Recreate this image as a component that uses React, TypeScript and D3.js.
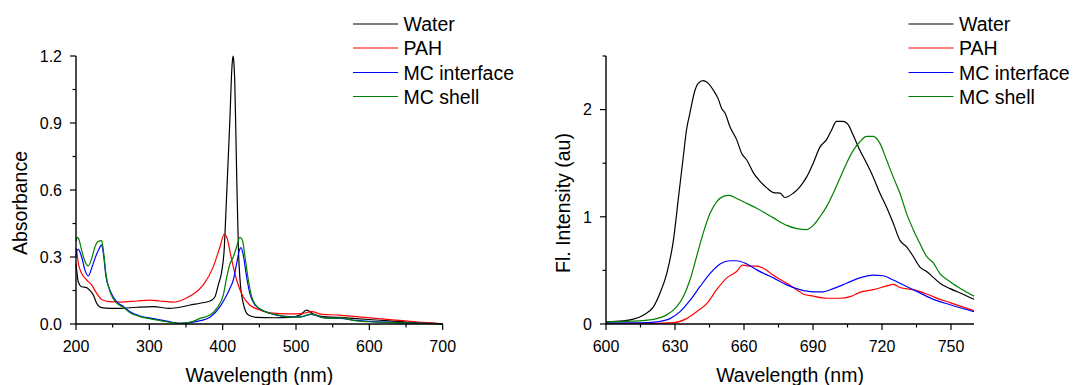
import React from 'react';
import * as d3 from 'd3';

const FONT = '"Liberation Sans", Arial, Helvetica, sans-serif';

// ---------- Absorbance panel data (wavelength nm, absorbance) ----------
const absWater: [number, number][] = [
  [200, 0.27], [201, 0.24], [203, 0.19], [207.7, 0.167], [214.5, 0.163], [219, 0.15], [223.6, 0.13],
  [228.2, 0.093], [235, 0.073], [246.4, 0.07], [260, 0.07], [282.7, 0.075], [305.5, 0.078],
  [328, 0.07], [341.8, 0.075], [355.5, 0.085], [369, 0.093], [382.7, 0.103], [389.5, 0.122],
  [394, 0.175], [398.6, 0.234], [402.3, 0.346], [404, 0.47], [407, 0.7], [410, 0.93], [412, 1.11],
  [413.3, 1.18], [414.3, 1.2], [415.3, 1.17], [416.5, 1.08], [418, 0.85], [419.5, 0.6], [421.5, 0.33],
  [423.6, 0.2], [428, 0.093], [435, 0.04], [446, 0.03], [470, 0.028], [491.8, 0.03], [505.5, 0.04],
  [514.5, 0.062], [523.6, 0.045], [536, 0.033], [559, 0.03], [582, 0.024], [609, 0.018],
  [650, 0.009], [673, 0.006], [700, 0.001],
];
const absPAH: [number, number][] = [
  [200, 0.34], [201, 0.325], [203.2, 0.27], [207.7, 0.227], [214.5, 0.197], [221.4, 0.175],
  [228.2, 0.137], [235, 0.11], [246.4, 0.1], [260, 0.098], [282.7, 0.103], [301, 0.107],
  [314.5, 0.103], [332.7, 0.098], [346.4, 0.11], [360, 0.134], [373.6, 0.175], [387.3, 0.257],
  [396.4, 0.346], [402.3, 0.403], [405.5, 0.39], [412.3, 0.287], [419, 0.197], [428, 0.122],
  [437, 0.085], [450.9, 0.063], [464.5, 0.05], [491.8, 0.045], [510, 0.048], [521, 0.055],
  [536, 0.043], [559, 0.04], [582, 0.033], [609, 0.025], [645, 0.015], [673, 0.007], [700, 0.001],
];
const absInterface: [number, number][] = [
  [200, 0.3], [201, 0.328], [203.2, 0.334], [207.7, 0.3], [212.3, 0.24], [216.8, 0.215],
  [221.4, 0.25], [225.9, 0.294], [230.5, 0.33], [235, 0.354], [237.3, 0.316], [241, 0.21],
  [246.4, 0.15], [255.5, 0.1], [264.5, 0.078], [273.6, 0.055], [287.3, 0.036], [305.5, 0.024],
  [323.6, 0.013], [341.8, 0.003], [355.5, 0.006], [370, 0.015], [382.7, 0.03], [396.4, 0.078],
  [403.2, 0.115], [410, 0.16], [414.5, 0.197], [419, 0.27], [422.7, 0.33], [425, 0.342],
  [428, 0.31], [432.7, 0.21], [437, 0.137], [444, 0.085], [455, 0.06], [473, 0.04], [491, 0.033],
  [505, 0.032], [521, 0.043], [535, 0.03], [550, 0.025], [560, 0.025], [580, 0.016], [600, 0.012],
  [650, 0.005], [700, 0.001],
];
const absShell: [number, number][] = [
  [200, 0.37], [201, 0.388], [203.2, 0.384], [207.7, 0.33], [212.3, 0.28], [216.8, 0.26],
  [221.4, 0.294], [225.9, 0.346], [230.5, 0.37], [235, 0.373], [237.3, 0.33], [241, 0.22],
  [246.4, 0.145], [255.5, 0.093], [264.5, 0.075], [273.6, 0.05], [287.3, 0.033], [305.5, 0.021],
  [323.6, 0.01], [341.8, 0.003], [360, 0.012], [369, 0.025], [382.7, 0.04], [391.8, 0.07],
  [400.9, 0.13], [405.5, 0.21], [410, 0.27], [414.5, 0.3], [419, 0.346], [423.6, 0.388],
  [426.8, 0.376], [430.5, 0.3], [435, 0.197], [439.5, 0.122], [446.4, 0.08], [455.5, 0.058],
  [473, 0.042], [491, 0.032], [505, 0.031], [521, 0.045], [535, 0.03], [550, 0.025], [560, 0.027],
  [580, 0.015], [600, 0.01], [650, 0.005], [700, 0.001],
];

// ---------- Fluorescence panel data (wavelength nm, intensity au) ----------
const flWater: [number, number][] = [
  [600, 0.02], [607.5, 0.03], [611.9, 0.045], [616, 0.08], [620.6, 0.16], [623.5, 0.29],
  [626.4, 0.47], [629.3, 0.78], [631.4, 1.16], [633.6, 1.56], [635, 1.81], [636.5, 1.97],
  [638.7, 2.18], [640.1, 2.245], [642.3, 2.27], [644.5, 2.245], [646.7, 2.18], [648.8, 2.1],
  [650.3, 2.01], [651.7, 1.97], [653.9, 1.84], [656.8, 1.72], [659, 1.59], [661.2, 1.53],
  [664.1, 1.41], [667, 1.33], [669.9, 1.27], [672.8, 1.225], [675.7, 1.22], [677.8, 1.18],
  [681.4, 1.22], [684.3, 1.28], [687.2, 1.37], [690.1, 1.5], [693, 1.65], [695.9, 1.72],
  [698.1, 1.81], [700.2, 1.89], [703.1, 1.89], [705.3, 1.86], [707.5, 1.76], [710.4, 1.62],
  [713.3, 1.5], [716.2, 1.37], [719.1, 1.22], [722, 1.09], [724.9, 0.94], [727.8, 0.78],
  [730.7, 0.72], [733.6, 0.63], [736.5, 0.53], [739.4, 0.49], [742.3, 0.435], [745.2, 0.38],
  [749.6, 0.33], [755, 0.28], [760, 0.23],
];
const flPAH: [number, number][] = [
  [600, 0.005], [620, 0.006], [629.3, 0.012], [635, 0.05], [639.4, 0.115], [643.8, 0.19],
  [648.1, 0.32], [652.5, 0.43], [656.8, 0.49], [659.4, 0.55], [662.6, 0.54], [665.5, 0.54],
  [668.4, 0.52], [672.8, 0.455], [678.6, 0.38], [684.3, 0.3], [685.7, 0.28], [690.1, 0.26],
  [695.9, 0.24], [701.7, 0.24], [706.1, 0.255], [710.4, 0.295], [716.2, 0.32], [722, 0.355],
  [724.9, 0.37], [727.8, 0.34], [733.6, 0.32], [739.4, 0.28], [745.2, 0.23], [749.6, 0.2],
  [755, 0.16], [760, 0.125],
];
const flInterface: [number, number][] = [
  [600, 0.008], [615, 0.01], [622, 0.02], [627.8, 0.05], [632.2, 0.115], [636.5, 0.22],
  [640.9, 0.35], [645.2, 0.47], [649.6, 0.56], [653.9, 0.59], [656.8, 0.59], [661.2, 0.56],
  [665.5, 0.505], [672.8, 0.43], [678.6, 0.365], [684.3, 0.32], [690.1, 0.3], [694.4, 0.3],
  [698.8, 0.33], [704.6, 0.38], [710.4, 0.43], [716.2, 0.455], [720.5, 0.45], [724.9, 0.41],
  [730.7, 0.35], [736.5, 0.29], [742.3, 0.23], [749.6, 0.18], [755, 0.145], [760, 0.115],
];
const flShell: [number, number][] = [
  [600, 0.02], [614.8, 0.03], [622, 0.05], [626.4, 0.085], [630.7, 0.16], [633.6, 0.255],
  [636.5, 0.41], [639.4, 0.63], [642.3, 0.85], [645.2, 1.03], [648.1, 1.14], [651, 1.19],
  [653.6, 1.2], [656.8, 1.17], [661.2, 1.125], [665.5, 1.08], [672.8, 0.99], [678.6, 0.92],
  [683, 0.89], [687.2, 0.88], [690.1, 0.92], [693, 1.0], [695.9, 1.095], [698.8, 1.22],
  [701.7, 1.36], [704.6, 1.5], [707.5, 1.62], [710.4, 1.7], [713.3, 1.75], [716.2, 1.75],
  [719.1, 1.685], [722, 1.53], [724.9, 1.37], [727.8, 1.22], [730.7, 1.03], [733.6, 0.88],
  [736.5, 0.75], [739.4, 0.63], [742.3, 0.57], [745.2, 0.47], [749.6, 0.395], [755, 0.32],
  [760, 0.26],
];

// ---------- Labels / ticks ----------
const seriesNames = ['Water', 'PAH', 'MC interface', 'MC shell'];
const seriesColors = ['#000000', '#ff0000', '#0000ff', '#008000'];

const absXTicks = [200, 300, 400, 500, 600, 700];
const absXMinor = [250, 350, 450, 550, 650];
const absYTicks = [0, 0.3, 0.6, 0.9, 1.2];
const absYMinor = [0.15, 0.45, 0.75, 1.05];

const flXTicks = [600, 630, 660, 690, 720, 750];
const flXMinor = [615, 645, 675, 705, 735];
const flYTicks = [0, 1, 2];
const flYMinor = [0.5, 1.5, 2.5];

type PanelProps = {
  data: [number, number][][];
  xDomain: [number, number];
  yDomain: [number, number];
  left: number;
  right: number;
  top: number;
  bottom: number;
  xTicks: number[];
  xMinor: number[];
  yTicks: number[];
  yMinor: number[];
  yFmt: (v: number) => string;
  yLabel: string;
  yLabelX: number;
  legendX: number;
};

function Panel(p: PanelProps) {
  const x = d3.scaleLinear().domain(p.xDomain).range([p.left, p.right]);
  const y = d3.scaleLinear().domain(p.yDomain).range([p.bottom, p.top]);
  const line = d3
    .line<[number, number]>()
    .x((d) => x(d[0]))
    .y((d) => y(d[1]))
    .curve(d3.curveMonotoneX);
  const ax = '#000';
  const major = 6;
  const minor = 3.5;
  const legendRows = [24, 48, 72.5, 96.5];
  return (
    <g>
      {p.data.map((s, i) => (
        <path key={i} d={line(s) || ''} fill="none" stroke={seriesColors[i]} strokeWidth={1.2} />
      ))}
      {/* axes */}
      <line x1={p.left} x2={p.left} y1={y(p.yDomain[1])} y2={p.bottom} stroke={ax} strokeWidth={1.4} />
      <line x1={p.left} x2={p.right} y1={p.bottom} y2={p.bottom} stroke={ax} strokeWidth={1.4} />
      {p.yTicks.map((t) => (
        <g key={'y' + t}>
          <line x1={p.left - major} x2={p.left} y1={y(t)} y2={y(t)} stroke={ax} strokeWidth={1.2} />
          <text x={p.left - 14} y={y(t) + 5.8} textAnchor="end" fontSize={16} fontFamily={FONT}>
            {p.yFmt(t)}
          </text>
        </g>
      ))}
      {p.yMinor.map((t) => (
        <line key={'ym' + t} x1={p.left - minor} x2={p.left} y1={y(t)} y2={y(t)} stroke={ax} strokeWidth={1.2} />
      ))}
      {p.xTicks.map((t) => (
        <g key={'x' + t}>
          <line x1={x(t)} x2={x(t)} y1={p.bottom} y2={p.bottom + major} stroke={ax} strokeWidth={1.2} />
          <text x={x(t)} y={p.bottom + 27.5} textAnchor="middle" fontSize={16} fontFamily={FONT}>
            {t}
          </text>
        </g>
      ))}
      {p.xMinor.map((t) => (
        <line key={'xm' + t} x1={x(t)} x2={x(t)} y1={p.bottom} y2={p.bottom + minor} stroke={ax} strokeWidth={1.2} />
      ))}
      <text
        x={(p.left + p.right) / 2}
        y={382}
        textAnchor="middle"
        fontSize={19.5}
        fontFamily={FONT}
      >
        Wavelength (nm)
      </text>
      <text
        transform={`translate(${p.yLabelX},203) rotate(-90)`}
        textAnchor="middle"
        fontSize={19.5}
        fontFamily={FONT}
      >
        {p.yLabel}
      </text>
      {/* legend */}
      {seriesNames.map((n, i) => (
        <g key={n}>
          <line
            x1={p.legendX}
            x2={p.legendX + 45}
            y1={legendRows[i]}
            y2={legendRows[i]}
            stroke={seriesColors[i]}
            strokeWidth={1.2}
          />
          <text x={p.legendX + 50.5} y={legendRows[i] + 7} fontSize={19.5} fontFamily={FONT}>
            {n}
          </text>
        </g>
      ))}
    </g>
  );
}

export default function App() {
  return (
    <svg
      width={1073}
      height={385}
      style={{ position: 'absolute', left: 0, top: 0, background: '#fff' }}
    >
      <rect width={1073} height={385} fill="#fff" />
      <Panel
        data={[absWater, absPAH, absInterface, absShell]}
        xDomain={[200, 700]}
        yDomain={[0, 1.2]}
        left={76}
        right={442.7}
        top={56}
        bottom={324}
        xTicks={absXTicks}
        xMinor={absXMinor}
        yTicks={absYTicks}
        yMinor={absYMinor}
        yFmt={(v) => d3.format('.1f')(v)}
        yLabel="Absorbance"
        yLabelX={26.7}
        legendX={353}
      />
      <Panel
        data={[flWater, flPAH, flInterface, flShell]}
        xDomain={[600, 760]}
        yDomain={[0, 2.5]}
        left={606}
        right={974}
        top={56}
        bottom={324}
        xTicks={flXTicks}
        xMinor={flXMinor}
        yTicks={flYTicks}
        yMinor={flYMinor}
        yFmt={(v) => String(v)}
        yLabel="Fl. Intensity (au)"
        yLabelX={570}
        legendX={908.5}
      />
    </svg>
  );
}
